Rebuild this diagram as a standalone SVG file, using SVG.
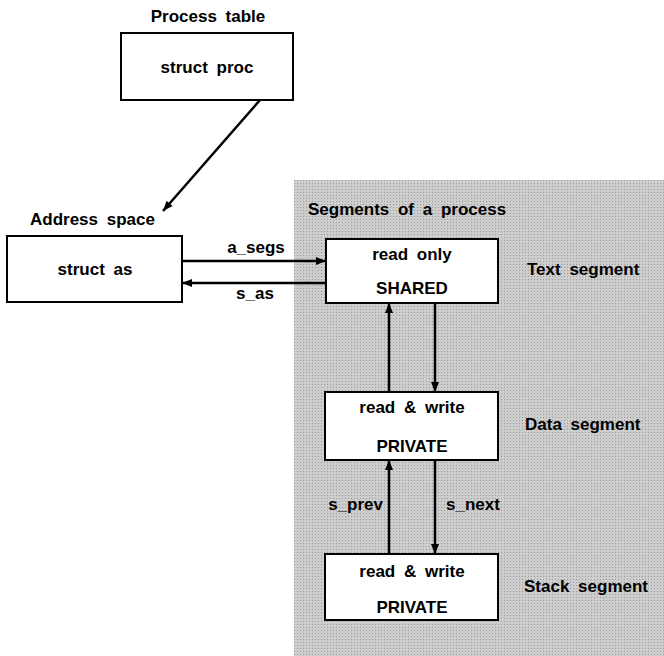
<svg xmlns="http://www.w3.org/2000/svg" width="664" height="656" viewBox="0 0 664 656">
<defs>
<marker id="ah" viewBox="0 0 10 8" refX="10" refY="4" markerWidth="11" markerHeight="8" markerUnits="userSpaceOnUse" orient="auto">
<path d="M0,0 L10,4 L0,8 Z" fill="#000"/>
</marker>
<pattern id="dots" width="3" height="3" patternUnits="userSpaceOnUse">
<rect width="3" height="3" fill="#cdcdcd"/>
<rect width="1" height="1" fill="#9a9a9a"/>
</pattern>
</defs>
<style>
text{font-family:"Liberation Sans",Arial,sans-serif;font-weight:bold;font-size:17px;fill:#000;word-spacing:4px}
.box{fill:#fff;stroke:#000;stroke-width:2}
.c{text-anchor:middle}
.ln{stroke:#000;stroke-width:2.5;fill:none;marker-end:url(#ah)}
</style>
<rect width="664" height="656" fill="#fff"/>
<rect id="shade" x="294" y="180" width="370" height="476" fill="url(#dots)"/>
<text class="c" x="208" y="22">Process table</text>
<text x="30" y="225">Address space</text>
<text x="308" y="215">Segments of a process</text>
<g id="proc"><rect class="box" x="121" y="33" width="172" height="67"/><text class="c" x="207" y="73">struct proc</text></g>
<g id="as"><rect class="box" x="7" y="236" width="175" height="66"/><text class="c" x="95" y="275">struct as</text></g>
<g id="text"><rect class="box" x="326" y="239" width="172" height="64"/><text class="c" x="412" y="260">read only</text><text class="c" x="412" y="294">SHARED</text><text x="527" y="275">Text segment</text></g>
<g id="data"><rect class="box" x="325" y="392" width="173" height="68"/><text class="c" x="412" y="413">read &amp; write</text><text class="c" x="412" y="452">PRIVATE</text><text x="525" y="430">Data segment</text></g>
<g id="stack"><rect class="box" x="325" y="554" width="173" height="66"/><text class="c" x="412" y="577">read &amp; write</text><text class="c" x="412" y="613">PRIVATE</text><text x="524" y="592">Stack segment</text></g>
<g id="connectors">
<line class="ln" x1="260" y1="100" x2="163" y2="211"/>
<line class="ln" x1="182" y1="261" x2="326" y2="261"/>
<line class="ln" x1="326" y1="283" x2="182" y2="283"/>
<line class="ln" x1="389" y1="392" x2="389" y2="303"/>
<line class="ln" x1="435" y1="303" x2="435" y2="392"/>
<line class="ln" x1="389" y1="554" x2="389" y2="460"/>
<line class="ln" x1="435" y1="460" x2="435" y2="554"/>
<text class="c" x="256" y="253">a_segs</text>
<text class="c" x="255" y="299">s_as</text>
<text x="383" y="510" text-anchor="end">s_prev</text>
<text x="446" y="510">s_next</text>
</g>
</svg>
